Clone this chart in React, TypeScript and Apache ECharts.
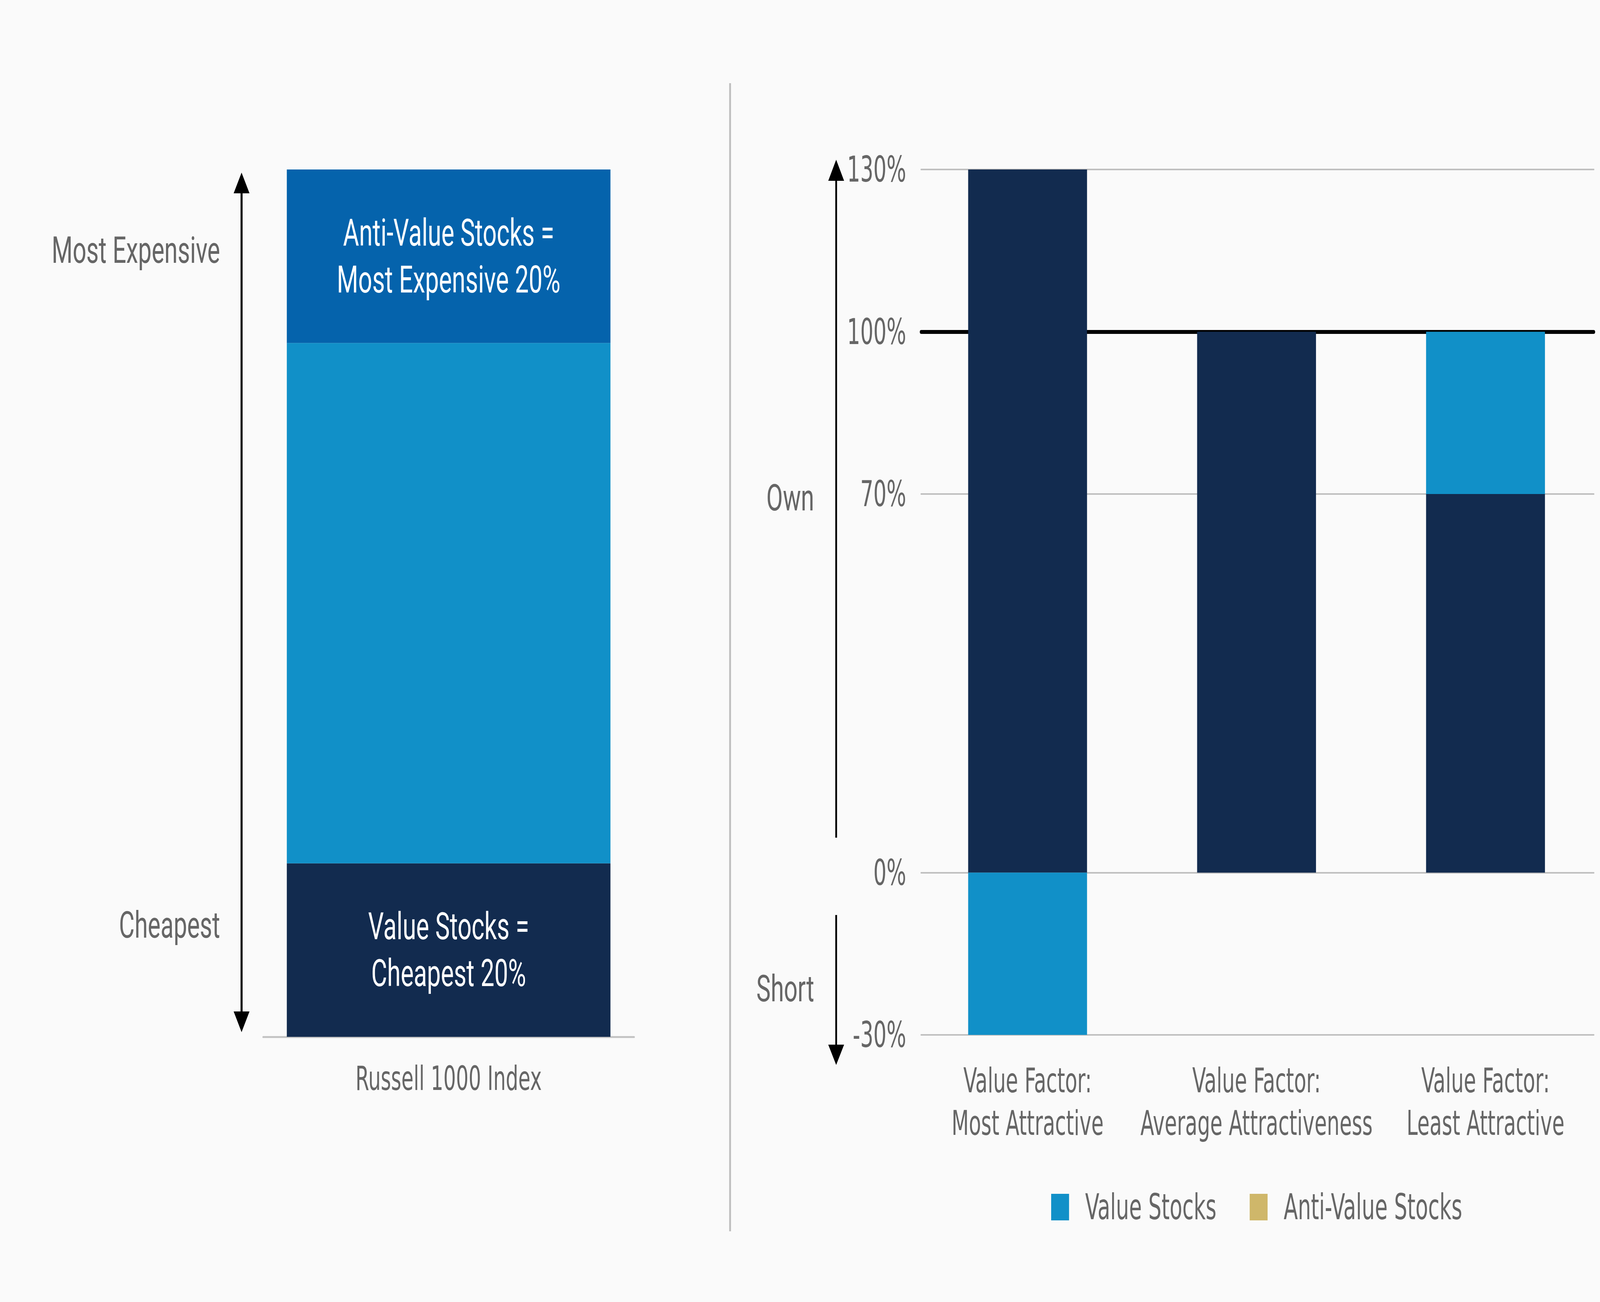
import React, { useEffect, useRef } from "react";
import * as echarts from "echarts";

// ---------- data ----------
const INDEX_CATEGORY = ["Russell 1000 Index"];
const CHEAPEST = [20];
const MIDDLE = [60];
const EXPENSIVE = [20];
const CHEAPEST_LABEL = "Value Stocks =\nCheapest 20%";
const EXPENSIVE_LABEL = "Anti-Value Stocks =\nMost Expensive 20%";

const CATEGORIES = [
  "Value Factor:\nMost Attractive",
  "Value Factor:\nAverage Attractiveness",
  "Value Factor:\nLeast Attractive",
];
const CORE = [130, 100, 70];
const VALUE_STOCKS = [-30, 0, 30];
const ANTI_VALUE_STOCKS = [null, null, null];

const Y_TICKS = [-30, 0, 70, 100, 130];
const GRID_LINES = [-30, 0, 70, 130];
const REFERENCE_LINE = 100;

// ---------- style ----------
const NAVY = "#122B4F";
const BLUE = "#1190C8";
const DEEP_BLUE = "#0563AC";
const GOLD = "#CFB76A";
const GRAY_TEXT = "#666666";
const COND = "'DejaVu Sans Condensed', 'Liberation Sans Narrow', Roboto, sans-serif";
const REG = "Roboto, 'Noto Sans', sans-serif";
const REF_W = 6259;
const REF_H = 3334;

export default function App() {
  const ref = useRef<HTMLDivElement>(null);
  const W = (typeof window !== "undefined" && window.innerWidth) || REF_W;
  const H = (typeof window !== "undefined" && window.innerHeight) || REF_H;
  const kx = W / REF_W;
  const ky = H / REF_H;

  useEffect(() => {
    const el = ref.current;
    if (!el) return;
    const chart = echarts.init(el, null, { renderer: "svg" });
    const insideLabel = (text: string) => ({
      show: true,
      position: "inside",
      formatter: text,
      color: "#FFFFFF",
      fontSize: 96,
      lineHeight: 120,
      fontFamily: REG,
    });
    const annot = (text: string, x: number, y: number) => ({
      type: "text",
      x,
      y,
      style: { text, align: "right", verticalAlign: "middle", fontSize: 94, fontFamily: REG, fill: GRAY_TEXT },
    });
    const vline = (x: number, y1: number, y2: number, color: string, w: number) => ({
      type: "line",
      shape: { x1: x, y1, x2: x, y2 },
      style: { stroke: color, lineWidth: w },
    });
    const head = (x: number, tip: number, base: number) => ({
      type: "polygon",
      shape: { points: [[x, tip], [x - 31, base], [x + 31, base]] },
      style: { fill: "#000" },
    });

    const option: any = {
      animation: false,
      backgroundColor: "#FAFAFA",
      grid: [
        { left: 1029, width: 1452, top: 434, bottom: 679 },
        { left: 3603, right: 24, top: 434, bottom: 684 },
        { left: 3572, right: 0, top: 434, bottom: 684 },
      ],
      xAxis: [
        {
          type: "category",
          gridIndex: 0,
          data: INDEX_CATEGORY,
          axisLine: { lineStyle: { color: "#C4C4C4", width: 5 } },
          axisTick: { show: false },
          axisLabel: { color: GRAY_TEXT, fontSize: 86, fontFamily: COND, margin: 63 },
        },
        { type: "category", gridIndex: 1, data: [""], show: false },
        {
          type: "category",
          gridIndex: 2,
          data: CATEGORIES,
          axisLine: { show: false },
          axisTick: { show: false },
          axisLabel: {
            color: GRAY_TEXT,
            fontSize: 87,
            lineHeight: 109,
            fontFamily: COND,
            margin: 62,
            interval: 0,
          },
        },
      ],
      yAxis: [
        { type: "value", gridIndex: 0, min: 0, max: 100, show: false },
        {
          type: "value",
          gridIndex: 1,
          min: -30,
          max: 130,
          interval: 10,
          axisLine: { show: false },
          axisTick: { show: false },
          splitLine: { show: false },
          axisLabel: {
            color: GRAY_TEXT,
            fontSize: 90,
            fontFamily: COND,
            margin: 58,
            formatter: (v: number) => (Y_TICKS.includes(v) ? `${v}%` : ""),
          },
        },
        { type: "value", gridIndex: 2, min: -30, max: 130, show: false },
      ],
      legend: {
        data: ["Value Stocks", "Anti-Value Stocks"],
        left: 4107,
        top: 3041,
        itemWidth: 70,
        itemHeight: 68,
        itemGap: 130,
        icon: "rect",
        textStyle: {
          color: GRAY_TEXT,
          fontSize: 90,
          fontFamily: COND,
          padding: [0, 0, 0, 58],
          lineHeight: 68,
        },
      },
      series: [
        {
          name: "Cheapest 20%",
          type: "bar",
          xAxisIndex: 0,
          yAxisIndex: 0,
          stack: "index",
          barWidth: 1266,
          data: CHEAPEST,
          itemStyle: { color: NAVY },
          label: insideLabel(CHEAPEST_LABEL),
        },
        {
          name: "Middle 60%",
          type: "bar",
          xAxisIndex: 0,
          yAxisIndex: 0,
          stack: "index",
          barWidth: 1266,
          data: MIDDLE,
          itemStyle: { color: BLUE },
        },
        {
          name: "Most Expensive 20%",
          type: "bar",
          xAxisIndex: 0,
          yAxisIndex: 0,
          stack: "index",
          barWidth: 1266,
          data: EXPENSIVE,
          itemStyle: { color: DEEP_BLUE },
          label: insideLabel(EXPENSIVE_LABEL),
        },
        {
          name: "gridlines",
          type: "line",
          xAxisIndex: 1,
          yAxisIndex: 1,
          data: [null],
          z: 1,
          markLine: {
            z: 1,
            silent: true,
            symbol: ["none", "none"],
            label: { show: false },
            lineStyle: { color: "#BFBFBF", width: 4, type: "solid", cap: "round" },
            data: [
              ...GRID_LINES.map((v) => ({ yAxis: v })),
              { yAxis: REFERENCE_LINE, lineStyle: { color: "#000000", width: 10, type: "solid", cap: "round" } },
            ],
          },
        },
        {
          name: "Core",
          type: "bar",
          xAxisIndex: 2,
          yAxisIndex: 2,
          stack: "pos",
          barWidth: 465,
          data: CORE,
          itemStyle: { color: NAVY },
          z: 3,
        },
        {
          name: "Value Stocks",
          type: "bar",
          xAxisIndex: 2,
          yAxisIndex: 2,
          stack: "pos",
          barWidth: 465,
          data: VALUE_STOCKS,
          itemStyle: { color: BLUE },
          z: 3,
        },
        {
          name: "Anti-Value Stocks",
          type: "bar",
          xAxisIndex: 2,
          yAxisIndex: 2,
          stack: "pos",
          barWidth: 465,
          data: ANTI_VALUE_STOCKS,
          itemStyle: { color: GOLD },
          z: 3,
        },
      ],
      graphic: [
        vline(2856, 213, 3153, "#BDBDBD", 7),
        vline(945, 490, 2595, "#000", 8),
        head(945, 442, 495),
        head(945, 2643, 2590),
        vline(3271, 455, 2145, "#000", 7),
        head(3271, 409, 463),
        vline(3271, 2343, 2680, "#000", 7),
        head(3271, 2727, 2675),
        annot("Most Expensive", 861, 640),
        annot("Cheapest", 861, 2368),
        annot("Own", 3185, 1274),
        annot("Short", 3185, 2531),
      ],
    };
    chart.setOption(option);
    return () => chart.dispose();
  }, []);

  return (
    <div
      style={{
        position: "absolute",
        left: 0,
        top: 0,
        width: REF_W,
        height: REF_H,
        transformOrigin: "0 0",
        transform: `scale(${kx}, ${ky})`,
        background: "#FAFAFA",
      }}
    >
      <div ref={ref} style={{ width: REF_W, height: REF_H }} />
    </div>
  );
}
